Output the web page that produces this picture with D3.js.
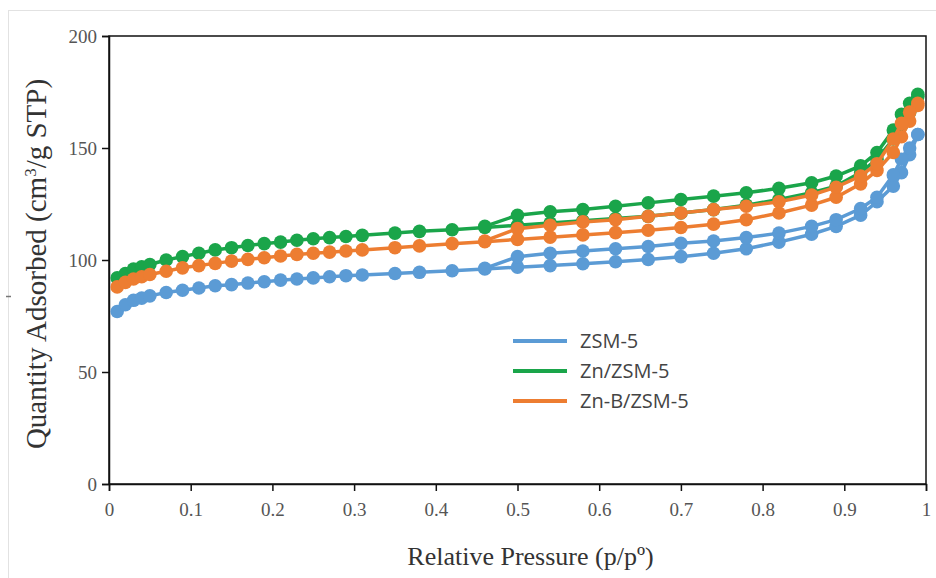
<!DOCTYPE html>
<html>
<head>
<meta charset="utf-8">
<script src="https://d3js.org/d3.v7.min.js"></script>
<style>
  body { margin: 0; background: #fff; }
  svg { display: block; }
</style>
</head>
<body>
<script>
// relative pressure points, adsorption then desorption
const adsP = [0.01, 0.02, 0.03, 0.04, 0.05, 0.07, 0.09, 0.11, 0.13, 0.15, 0.17, 0.19, 0.21, 0.23, 0.25, 0.27, 0.29, 0.31, 0.35, 0.38, 0.42, 0.46, 0.50, 0.54, 0.58, 0.62, 0.66, 0.70, 0.74, 0.78, 0.82, 0.86, 0.89, 0.92, 0.94, 0.96, 0.97, 0.98, 0.99];
const desP = [0.99, 0.98, 0.97, 0.96, 0.94, 0.92, 0.89, 0.86, 0.82, 0.78, 0.74, 0.70, 0.66, 0.62, 0.58, 0.54, 0.50, 0.46];

const zsmAds = [77, 80, 82, 83, 84, 85.5, 86.5, 87.5, 88.5, 89, 89.7, 90.3, 91, 91.5, 92, 92.5, 93, 93.3, 94, 94.5, 95.2, 96, 96.8, 97.5, 98.3, 99.2, 100.2, 101.5, 103, 105, 108, 111.5, 115, 120, 126, 133, 139, 147, 156];
const zsmDes = [156, 150, 145, 138, 128, 123, 118, 115, 112, 110, 108.5, 107.5, 106, 105, 104, 103, 101.5, 96.3];

const znAds = [92, 94, 96, 97, 98, 100, 101.5, 103, 104.5, 105.5, 106.5, 107.3, 108, 108.8, 109.5, 110, 110.5, 111, 112, 112.8, 113.5, 114.5, 115.5, 116.5, 117.5, 118.5, 119.5, 121, 122.5, 124.5, 127, 130, 133, 139, 145, 154, 160, 166, 173];
const znDes = [174, 170, 165, 158, 148, 142, 137.5, 134.5, 132, 130, 128.5, 127, 125.5, 124, 122.5, 121.5, 120, 115];

const znbAds = [88, 90, 91.5, 92.5, 93.5, 95, 96.5, 97.5, 98.5, 99.5, 100.3, 101, 101.8, 102.5, 103, 103.5, 104, 104.5, 105.5, 106.3, 107.3, 108.2, 109.2, 110.2, 111.2, 112.2, 113.3, 114.5, 116, 118, 121, 124.5, 128, 134, 140, 148, 155, 162, 169];
const znbDes = [170, 166, 161, 154, 143, 137.5, 132.5, 129, 126, 124, 122.5, 121, 119.5, 118, 117, 115.5, 114, 108.5];

const seriesNames = ['ZSM-5', 'Zn/ZSM-5', 'Zn-B/ZSM-5'];
const seriesColors = ['#5b9bd5', '#1aa54a', '#ed7d31'];
const xTicks = [0, 0.1, 0.2, 0.3, 0.4, 0.5, 0.6, 0.7, 0.8, 0.9, 1];
const yTicks = [0, 50, 100, 150, 200];

const width = 936, height = 578;
const margin = { left: 109, right: 10, top: 36, bottom: 94 };

const svg = d3.select('body').append('svg').attr('width', width).attr('height', height);

// faint outer frame of the picture
svg.append('rect').attr('x', 8.5).attr('y', 10.5).attr('width', 940).attr('height', 580)
    .attr('fill', 'none').attr('stroke', '#e2e2e2').attr('stroke-width', 1);
svg.append('line').attr('x1', 6).attr('x2', 11).attr('y1', 296.5).attr('y2', 296.5)
    .attr('stroke', '#777').attr('stroke-width', 1.5);

const x = d3.scaleLinear().domain([0, 1]).range([margin.left, width - margin.right]);
const y = d3.scaleLinear().domain([0, 200]).range([height - margin.bottom, margin.top]);

// plot frame
svg.append('rect')
    .attr('x', x(0)).attr('y', y(200))
    .attr('width', x(1) - x(0)).attr('height', y(0) - y(200))
    .attr('fill', 'none').attr('stroke', '#111').attr('stroke-width', 1.5);

const xAxis = svg.append('g')
    .attr('transform', `translate(0,${y(0)})`)
    .call(d3.axisBottom(x).tickValues(xTicks).tickFormat(d3.format('')).tickSize(7).tickPadding(12));
const yAxis = svg.append('g')
    .attr('transform', `translate(${x(0)},0)`)
    .call(d3.axisLeft(y).tickValues(yTicks).tickSize(7).tickPadding(5));

[xAxis, yAxis].forEach((g) => {
    g.select('.domain').attr('stroke', '#111').attr('stroke-width', 1.5);
    g.selectAll('.tick line').attr('stroke', '#111').attr('stroke-width', 1.5);
    g.selectAll('.tick text')
        .attr('fill', '#555')
        .style('font-family', "'Liberation Serif', serif")
        .style('font-size', '19px');
});

// axis titles
svg.append('text')
    .attr('x', (x(0) + x(1)) / 2 + 13).attr('y', 565)
    .attr('text-anchor', 'middle')
    .style('font-family', "'Liberation Serif', serif")
    .style('font-size', '26px').attr('fill', '#333')
    .text('Relative Pressure (p/pº)');

const yTitle = svg.append('text')
    .attr('transform', `translate(46,${(y(0) + y(200)) / 2 + 4}) rotate(-90)`)
    .attr('text-anchor', 'middle')
    .style('font-family', "'Liberation Serif', serif")
    .style('font-size', '29px').attr('fill', '#333');
yTitle.append('tspan').text('Quantity Adsorbed (cm');
yTitle.append('tspan').attr('dy', -10).style('font-size', '17px').text('3');
yTitle.append('tspan').attr('dy', 10).text('/g STP)');

// series
const series = [
    { ads: zsmAds, des: zsmDes },
    { ads: znAds, des: znDes },
    { ads: znbAds, des: znbDes },
];

const line = d3.line().x((d) => x(d[0])).y((d) => y(d[1]));

series.forEach((s, i) => {
    const ads = adsP.map((p, j) => [p, s.ads[j]]);
    const des = desP.map((p, j) => [p, s.des[j]]);
    const g = svg.append('g');
    [ads, des].forEach((pts) => {
        g.append('path').datum(pts).attr('d', line)
            .attr('fill', 'none').attr('stroke', seriesColors[i]).attr('stroke-width', 3.5);
        g.selectAll(null).data(pts).enter().append('circle')
            .attr('cx', (d) => x(d[0])).attr('cy', (d) => y(d[1]))
            .attr('r', 6.8).attr('fill', seriesColors[i]);
    });
});

// legend
const legend = svg.append('g').attr('transform', 'translate(513,341)');
seriesNames.forEach((name, i) => {
    const row = legend.append('g').attr('transform', `translate(0,${i * 30})`);
    row.append('line').attr('x1', 0).attr('x2', 54).attr('y1', 0).attr('y2', 0)
        .attr('stroke', seriesColors[i]).attr('stroke-width', 4);
    row.append('text').attr('x', 67).attr('y', 7)
        .style('font-family', "'Open Sans', sans-serif")
        .style('font-size', '20px').attr('fill', '#444')
        .text(name);
});
</script>
</body>
</html>
